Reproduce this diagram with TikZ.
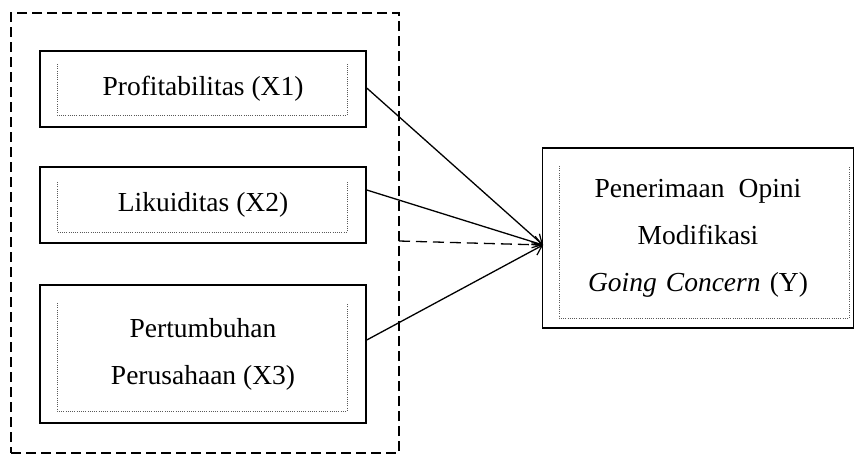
\documentclass[tikz,border=0pt]{standalone}
\usepackage{fontspec}
\setmainfont{Liberation Serif}
\usetikzlibrary{arrows.meta}
\begin{document}
\begin{tikzpicture}[x=1pt,y=-1pt,
  varbox/.style={draw,line width=1.5pt,inner sep=0pt,align=center,
    font=\fontsize{27.5}{47}\selectfont},
  grpbox/.style={draw,line width=1.3pt,dash pattern=on 10pt off 5pt,inner sep=0pt},
  inner/.style={line width=1pt,dash pattern=on 1pt off 1.2pt,gray!70!black},
  link/.style={line width=1.3pt,-{Straight Barb[length=9pt,width=12pt,line width=1.2pt]}},
  dlink/.style={line width=1.3pt,dash pattern=on 11pt off 6pt}]
\useasboundingbox (0,0) rectangle (855,456);
% outer dashed group
\node[grpbox,minimum width=388pt,minimum height=440pt] (grp) at (205,233) {};
% variable boxes
\node[varbox,minimum width=326pt,minimum height=76pt] (x1) at (203,89) {Profitabilitas (X1)};
\node[varbox,minimum width=326pt,minimum height=76pt] (x2) at (203,205) {Likuiditas (X2)};
\node[varbox,minimum width=326pt,minimum height=138pt] (x3) at (203,354) {Pertumbuhan\\Perusahaan (X3)};
\node[varbox,minimum width=311pt,minimum height=180pt,text width=300pt] (y) at (698,238)
  {Penerimaan\hspace{5pt} Opini\\Modifikasi\\\textit{Going Concern} (Y)};
% inner dotted brackets
\draw[inner] (57,64) -- (57,115) -- (347,115) -- (347,64);
\draw[inner] (57,182) -- (57,232) -- (347,232) -- (347,182);
\draw[inner] (57,303) -- (57,411) -- (347,411) -- (347,303);
\draw[inner] (559,166) -- (559,318) -- (849,318) -- (849,166);
% connectors
\coordinate (tgt) at (543,245);
\coordinate (gs) at (399,241);
\draw[dlink] (gs) -- (tgt);
\draw[link] ([yshift=1pt]x1.east) -- (tgt);
\draw[link] ([yshift=15pt]x2.east) -- (tgt);
\draw[link] ([yshift=14pt]x3.east) -- (tgt);
\end{tikzpicture}
\end{document}
